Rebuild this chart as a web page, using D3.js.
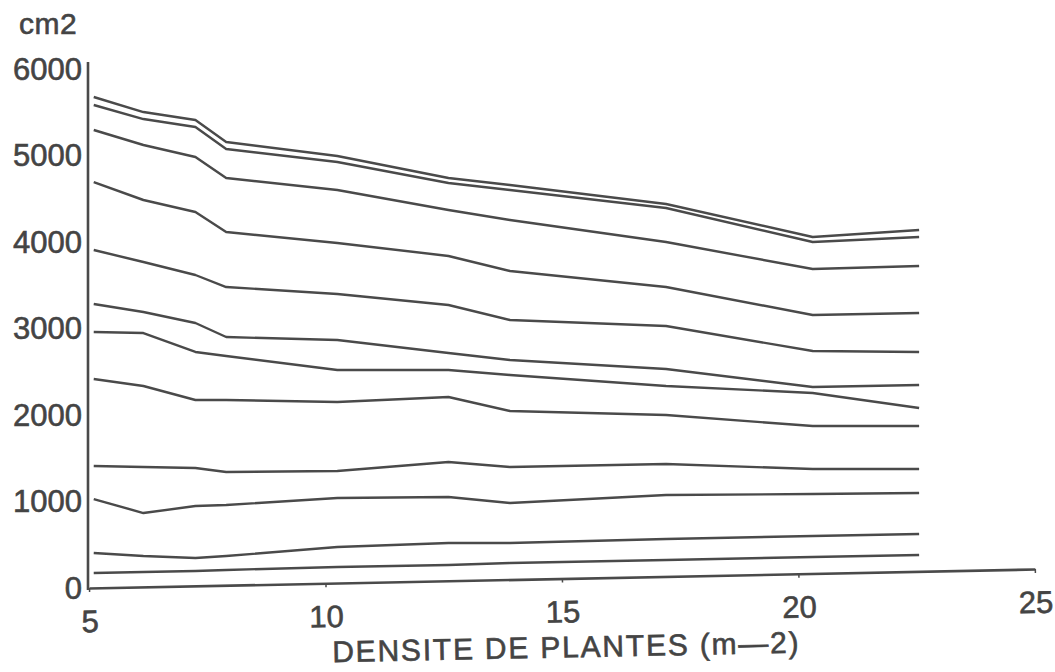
<!DOCTYPE html>
<html>
<head>
<meta charset="utf-8">
<script src="https://cdn.jsdelivr.net/npm/d3@7"></script>
<style>
  html, body { margin: 0; padding: 0; background: #fff; }
  svg { display: block; }
  text { font-family: "Liberation Sans", Arial, Helvetica, sans-serif; fill: #444; stroke: #444; stroke-width: 0.6px; }
</style>
</head>
<body>
<svg id="chart" width="1055" height="672"></svg>
<script>
// ---- data ----
const density = [5.1, 6.15, 7.25, 7.9, 10.25, 12.6, 13.9, 17.2, 20.3, 22.55];

const s1  = [5665, 5491, 5399, 5145, 4983, 4728, 4647, 4428, 4046, 4127];
const s2  = [5572, 5410, 5318, 5064, 4913, 4671, 4590, 4382, 3988, 4046];
const s3  = [5283, 5110, 4971, 4728, 4590, 4358, 4243, 3988, 3676, 3711];
const s4  = [4682, 4474, 4335, 4104, 3977, 3827, 3653, 3468, 3145, 3168];
const s5  = [3896, 3757, 3607, 3468, 3387, 3260, 3087, 3017, 2728, 2717];
const s6  = [3272, 3179, 3052, 2890, 2855, 2705, 2624, 2520, 2312, 2335];
const s7  = [2948, 2936, 2717, 2671, 2509, 2509, 2451, 2324, 2243, 2069];
const s8  = [2405, 2324, 2162, 2162, 2139, 2197, 2035, 1988, 1861, 1861];
const s9  = [1399, 1387, 1376, 1329, 1341, 1445, 1387, 1422, 1364, 1364];
const s10 = [1017,  855,  936,  948, 1029, 1040,  971, 1064, 1075, 1087];
const s11 = [ 393,  358,  335,  358,  462,  509,  509,  555,  590,  613];
const s12 = [ 162,  173,  185,  197,  231,  254,  277,  312,  347,  370];

const seriesList = [s1, s2, s3, s4, s5, s6, s7, s8, s9, s10, s11, s12];

const xTicks = [5, 10, 15, 20, 25];
const yTicks = [0, 1000, 2000, 3000, 4000, 5000, 6000];
const yUnit = "cm2";
const xTitle = "DENSITE DE PLANTES (m\u20142)";

// ---- layout ----
const svg = d3.select("#chart");
const x = d3.scaleLinear().domain([5, 25]).range([89, 1035]);
const y = d3.scaleLinear().domain([0, 6000]).range([587, 68]);
const ink = "#4a4a4a";

// y axis
const yAxis = d3.axisLeft(y).tickValues(yTicks).tickFormat(d3.format("d")).tickSize(0).tickPadding(6);
const gy = svg.append("g").attr("transform", "translate(88,0)").call(yAxis);
gy.select(".domain").remove();
gy.append("line").attr("x1", 0).attr("x2", 0).attr("y1", 62).attr("y2", 590)
  .attr("stroke", ink).attr("stroke-width", 2.6);
gy.selectAll(".tick text").style("font-size", "31px").attr("fill", "#444").attr("dy", "0.36em");

// unit label
svg.append("text").attr("x", 19).attr("y", 34).style("font-size", "30px").style("letter-spacing", "0.5px").text(yUnit);

// x axis (slightly slanted, as in the reference)
const gxWrap = svg.append("g").attr("transform", "rotate(-1.15, 89, 588)");
const xAxis = d3.axisBottom(x).tickValues(xTicks).tickFormat(d3.format("d")).tickSize(4).tickSizeOuter(0).tickPadding(18);
const gx = gxWrap.append("g").attr("transform", "translate(0,588)").call(xAxis);
gx.select(".domain").attr("stroke", ink).attr("stroke-width", 2.6);
gx.selectAll(".tick line").attr("stroke", ink).attr("stroke-width", 1.5);
gx.selectAll(".tick text").style("font-size", "31px").attr("fill", "#444");

gxWrap.append("text")
  .attr("x", 565).attr("y", 667)
  .attr("text-anchor", "middle")
  .style("font-size", "30px")
  .style("letter-spacing", "1.8px")
  .text(xTitle);

// lines
const line = d3.line()
  .x((d, i) => x(density[i]))
  .y(d => y(d));

svg.append("g").selectAll("path")
  .data(seriesList)
  .join("path")
  .attr("d", d => line(d))
  .attr("fill", "none")
  .attr("stroke", ink)
  .attr("stroke-width", 2.4)
  .attr("stroke-linejoin", "round")
  .attr("stroke-linecap", "butt");
</script>
</body>
</html>
